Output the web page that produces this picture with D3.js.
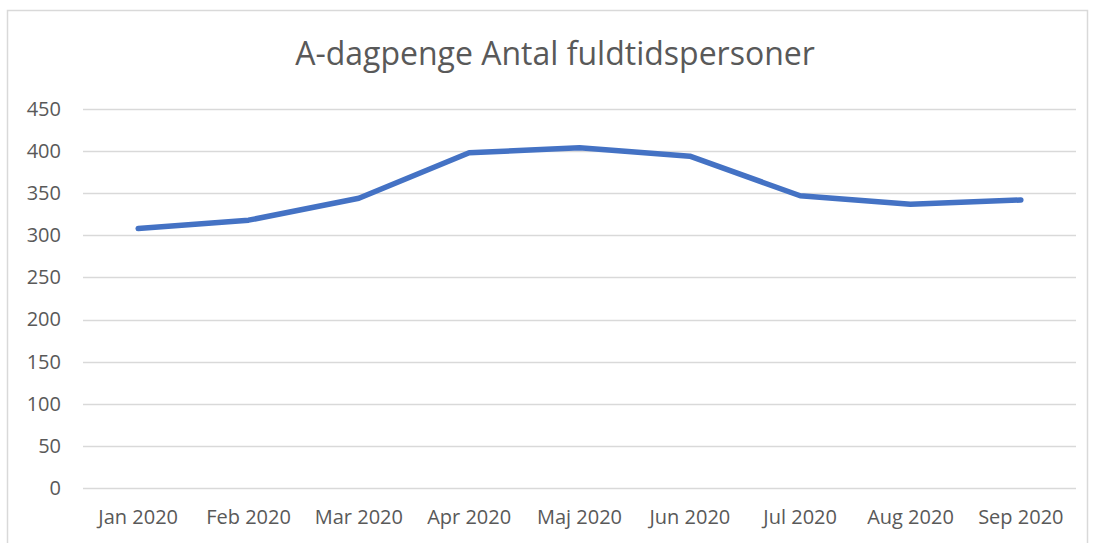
<!DOCTYPE html>
<html lang="da">
<head>
<meta charset="UTF-8">
<title>A-dagpenge Antal fuldtidspersoner</title>
<script src="https://d3js.org/d3.v7.min.js"></script>
<style>
    body { margin: 0; background: #fff; }
    .axis text { font-family: "Open Sans", sans-serif; font-size: 20px; fill: #595959; }
</style>
</head>
<body>
<div id="chart"></div>
<script>
    // data
    const months = ["Jan 2020", "Feb 2020", "Mar 2020", "Apr 2020", "Maj 2020", "Jun 2020", "Jul 2020", "Aug 2020", "Sep 2020"];
    const persons = [308, 318, 344, 398, 404, 394, 347, 337, 342];
    const yTicks = [0, 50, 100, 150, 200, 250, 300, 350, 400, 450];

    const W = 1094, H = 543;
    const margin = {top: 109, right: 18, bottom: 55, left: 83};

    const svg = d3.select("#chart").append("svg")
        .attr("width", W)
        .attr("height", H);

    // chart frame
    svg.append("rect")
        .attr("x", 7.5).attr("y", 10.5)
        .attr("width", 1080).attr("height", 560)
        .attr("fill", "none")
        .attr("stroke", "#d9d9d9")
        .attr("stroke-width", 1.5);

    const x = d3.scaleBand().domain(months).range([margin.left, W - margin.right]);
    const y = d3.scaleLinear().domain([0, 450]).range([H - margin.bottom, margin.top]);

    // gridlines
    svg.append("g")
        .selectAll("line")
        .data(yTicks)
        .join("line")
        .attr("x1", margin.left).attr("x2", W - margin.right)
        .attr("y1", d => Math.round(y(d)) + 0.5).attr("y2", d => Math.round(y(d)) + 0.5)
        .attr("stroke", "#d9d9d9")
        .attr("stroke-width", 1.5);

    // y axis labels
    const yAxis = svg.append("g")
        .attr("class", "axis")
        .attr("transform", `translate(${margin.left - 22},0)`)
        .call(d3.axisLeft(y).tickValues(yTicks).tickSize(0).tickPadding(0));
    yAxis.select(".domain").remove();

    // x axis labels
    const xAxis = svg.append("g")
        .attr("class", "axis")
        .attr("transform", `translate(0,${H - margin.bottom})`)
        .call(d3.axisBottom(x).tickSize(0).tickPadding(22));
    xAxis.select(".domain").remove();

    // line
    const line = d3.line()
        .x((d, i) => x(months[i]) + x.bandwidth() / 2)
        .y(d => y(d));

    svg.append("path")
        .datum(persons)
        .attr("d", line)
        .attr("fill", "none")
        .attr("stroke", "#4472c4")
        .attr("stroke-width", 5.5)
        .attr("stroke-linecap", "round")
        .attr("stroke-linejoin", "round");

    // title
    svg.append("text")
        .attr("x", 555)
        .attr("y", 65)
        .attr("text-anchor", "middle")
        .style("font-family", "'Open Sans', sans-serif")
        .style("font-size", "32px")
        .style("fill", "#595959")
        .text("A-dagpenge Antal fuldtidspersoner");
</script>
</body>
</html>
